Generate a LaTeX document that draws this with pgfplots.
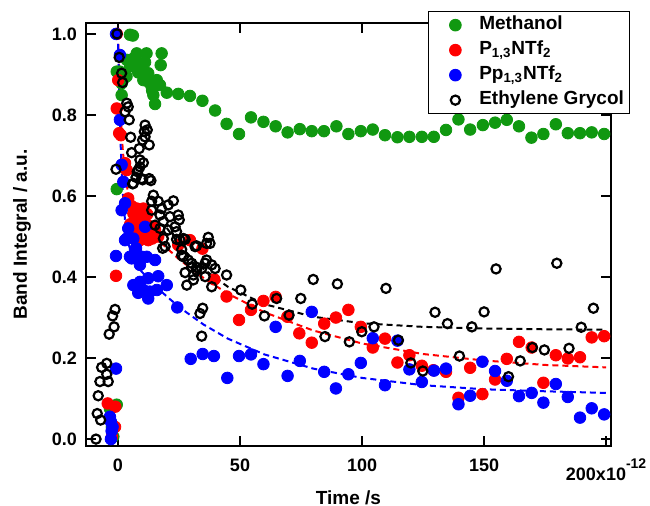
\documentclass[border=0pt]{standalone}
\usepackage{pgfplots}
\pgfplotsset{compat=1.18}
\usepackage{fontspec}
\setmainfont{Liberation Sans}
\definecolor{igorgreen}{RGB}{16,152,16}
\definecolor{igorred}{RGB}{255,0,0}
\definecolor{igorblue}{RGB}{0,0,255}

\begin{document}
\begin{tikzpicture}
\begin{axis}[
    scale only axis,
    width=262.5pt, height=211.5pt,
    xmin=-13.1, xmax=202.0,
    ymin=-0.017, ymax=1.027,
    xtick={0,50,100,150,200},
    xticklabels={0,50,100,150,{200x10\raisebox{5.8pt}{\fontsize{7}{7}\selectfont -12}}},
    ytick={0,0.2,0.4,0.6,0.8,1.0},
    yticklabel style={/pgf/number format/fixed, /pgf/number format/fixed zerofill,
        /pgf/number format/precision=1, xshift=-1pt},
    /pgf/number format/assume math mode=true,
    ticklabel style={font=\fontsize{9}{10}\selectfont\bfseries},
    xticklabel style={yshift=-3pt},
    tick align=inside,
    major tick length=5pt,
    tick style={line width=1pt, black},
    axis line style={line width=1pt},
    xlabel={Time /s},
    ylabel={Band Integral / a.u.},
    label style={font=\fontsize{9.5}{11}\selectfont\bfseries},
    xlabel style={at={([yshift=-26pt]axis description cs:0.5,0)}, anchor=center},
    ylabel style={at={([xshift=-32pt]axis description cs:0,0.5)}, anchor=center},
    legend cell align=left,
    legend image code/.code={\path (0cm,0cm) (0.75cm,0cm);
        \draw[#1] plot coordinates {(0.42cm,0cm)};},
    legend style={at={(1.037,1.028)}, anchor=north east,
        draw=black, line width=0.5pt, fill=white,
        inner xsep=1pt, inner ysep=0.5pt, row sep=0pt,
        font=\fontsize{9.5}{11}\selectfont\bfseries,
        nodes={text height=7pt, text depth=2.5pt, inner ysep=1.5pt}},
]
\coordinate (sw) at (rel axis cs:0,0);
\coordinate (ne) at (rel axis cs:1,1);

% Methanol
\addplot[only marks, mark=*, mark size=2.9pt, color=igorgreen] coordinates {
(-3.3,0.075) (-2.5,0.03) (-1.9,0.006) (-0.5,0.085) (-0.5,0.617) (-0.5,0.907)
(0.8,0.907) (1.5,0.878) (1.5,0.849) (3.5,0.895) (3.6,0.936) (4.9,0.998)
(6.1,0.996) (5.0,0.92) (6.5,0.94) (7.7,0.952) (8.3,0.905) (9.0,0.928) (9.7,0.911)
(10.4,0.886) (11.1,0.93) (11.7,0.952) (12.4,0.903) (12.8,0.88) (13.8,0.87)
(14.0,0.86) (14.5,0.849) (15.2,0.827) (15.9,0.886) (17.2,0.874) (17.5,0.923)
(17.9,0.952) (20.0,0.855) (24.7,0.852) (29.5,0.847) (34.6,0.835) (39.8,0.811)
(44.5,0.778) (49.6,0.753) (54.5,0.794) (59.6,0.783) (64.6,0.772) (69.5,0.757)
(74.5,0.765) (79.4,0.760) (84.4,0.760) (89.5,0.772) (94.4,0.753) (99.5,0.760)
(104.4,0.764) (109.4,0.750) (114.5,0.745) (119.4,0.746) (124.5,0.746)
(129.4,0.746) (134.4,0.763) (139.5,0.789) (144.3,0.764) (149.5,0.775)
(154.5,0.781) (159.3,0.788) (164.3,0.772) (169.4,0.744) (174.3,0.753)
(179.4,0.777) (184.3,0.755) (189.3,0.755) (194.1,0.757) (199.2,0.753)
};
\addlegendentry{Methanol}

% P13NTf2
\addplot[only marks, mark=*, mark size=2.9pt, color=igorred] coordinates {
(-4.2,0.088) (-1.1,0.08) (-2.5,0.006) (-1.2,0.03) (-0.8,0.403) (-0.5,1.0)
(-0.5,0.816) (0.1,0.886) (0.5,0.755) (1.2,0.75) (2.9,0.668) (2.9,0.681)
(3.6,0.664) (4.2,0.594) (5.0,0.53) (5.6,0.575) (6.3,0.557) (6.3,0.508)
(6.8,0.54) (7.7,0.569) (7.7,0.516) (8.3,0.52) (8.5,0.55) (9.0,0.537)
(9.0,0.491) (9.7,0.51) (10.4,0.569) (10.4,0.541) (10.4,0.5) (11.5,0.52)
(11.8,0.53) (12.0,0.555) (12.4,0.491) (13.1,0.508) (13.1,0.5) (14.0,0.495)
(14.5,0.524) (15.2,0.516) (16.5,0.5) (24.7,0.479) (29.5,0.491) (34.6,0.47)
(39.5,0.394) (44.5,0.352) (49.6,0.294) (54.5,0.319) (59.6,0.341) (64.6,0.351)
(69.4,0.302) (74.3,0.261) (79.4,0.238) (84.5,0.285) (89.3,0.3) (94.4,0.319)
(99.5,0.277) (104.4,0.226) (109.4,0.248) (114.5,0.189) (119.4,0.207)
(124.5,0.181) (129.2,0.17) (134.4,0.166) (139.5,0.102) (144.3,0.176)
(149.3,0.111) (154.5,0.147) (159.3,0.198) (164.3,0.24) (169.5,0.226)
(174.3,0.139) (179.4,0.207) (184.3,0.199) (189.3,0.202) (194.1,0.251)
(199.2,0.254)
};
\addlegendentry{P\textsubscript{1,3}NTf\textsubscript{2}}

% Pp13NTf2
\addplot[only marks, mark=*, mark size=2.9pt, color=igorblue] coordinates {
(-3.3,0.055) (-2.9,0.043) (-2.2,0.03) (-2.6,0.02) (-2.9,0.0) (-0.8,0.174)
(-0.8,1.0) (0.8,0.948) (0.8,0.788) (1.5,0.677) (2.2,0.635) (2.9,0.582)
(1.5,0.565) (4.2,0.52) (2.9,0.491) (3.6,0.495) (-0.8,0.452) (4.9,0.45)
(5.6,0.446) (6.3,0.495) (7.0,0.467) (7.4,0.471) (9.0,0.43) (9.7,0.45)
(11.1,0.524) (11.8,0.45) (15.2,0.442) (6.3,0.38) (8.3,0.361) (9.0,0.388)
(10.4,0.368) (12.4,0.397) (12.4,0.347) (13.1,0.364) (15.9,0.368) (16.5,0.402)
(20.0,0.38) (24.3,0.325) (29.8,0.198) (34.7,0.21) (39.3,0.205) (44.8,0.151)
(49.6,0.205) (54.5,0.209) (59.6,0.185) (64.6,0.277) (69.5,0.156) (74.5,0.193)
(79.4,0.314) (84.5,0.166) (89.3,0.125) (94.4,0.16) (99.5,0.188) (104.4,0.249)
(109.4,0.133) (114.5,0.243) (119.4,0.172) (124.5,0.141) (129.5,0.169)
(134.4,0.174) (139.5,0.086) (144.3,0.107) (149.3,0.191) (154.5,0.168)
(159.3,0.144) (164.3,0.106) (169.5,0.114) (174.3,0.09) (179.4,0.136)
(184.3,0.104) (189.3,0.053) (194.1,0.076) (199.2,0.061)
};
\addlegendentry{Pp\textsubscript{1,3}NTf\textsubscript{2}}

% Ethylene glycol
\addplot[only marks, mark=o, mark size=2.3pt, line width=1.1pt, color=black] coordinates {
(-9.0,0.0) (-8.5,0.063) (-7.1,0.047) (-8.1,0.107) (-7.4,0.142) (-4.0,0.142)
(-4.6,0.16) (-6.7,0.177) (-4.6,0.187) (-3.6,0.259) (-1.6,0.277) (-2.2,0.304)
(-1.2,0.32) (-0.4,1.0) (0.5,0.942) (1.5,0.903) (1.9,0.88) (-0.8,0.666)
(3.6,0.829) (2.9,0.808) (4.2,0.82) (4.6,0.788) (5.2,0.745) (5.6,0.707)
(6.0,0.63) (6.3,0.631) (7.4,0.646) (7.9,0.66) (8.3,0.664) (8.7,0.717)
(9.0,0.672) (9.0,0.689) (9.7,0.643) (10.1,0.738) (10.1,0.64) (10.4,0.682)
(10.8,0.759) (11.1,0.775) (11.1,0.746) (12.0,0.763) (12.8,0.726) (12.8,0.643)
(13.5,0.638) (13.8,0.587) (13.8,0.565) (14.5,0.602) (15.2,0.528) (16.5,0.587)
(17.2,0.553) (17.2,0.52) (17.9,0.569) (18.3,0.471) (18.6,0.537) (18.6,0.495)
(19.3,0.475) (20.6,0.578) (20.6,0.516) (21.3,0.549) (22.7,0.588) (23.4,0.524)
(24.0,0.512) (24.0,0.493) (24.7,0.553) (25.1,0.541) (25.4,0.491) (26.1,0.468)
(26.1,0.454) (26.8,0.495) (26.8,0.45) (27.5,0.493) (27.5,0.411) (28.2,0.38)
(28.8,0.442) (30.2,0.425) (30.2,0.434) (30.9,0.405) (30.9,0.393) (31.6,0.475)
(32.2,0.477) (32.2,0.424) (32.2,0.417) (33.6,0.31) (34.3,0.421) (34.3,0.254)
(34.7,0.323) (35.7,0.401) (35.7,0.434) (36.3,0.442) (36.3,0.483) (37.0,0.498)
(37.7,0.483) (38.4,0.376) (38.4,0.43) (39.8,0.421) (44.5,0.405) (50.3,0.368)
(55.0,0.333) (60.0,0.304) (65.0,0.347) (70.1,0.306) (74.9,0.347) (80.0,0.394)
(84.8,0.253) (89.9,0.383) (94.8,0.24) (99.9,0.265) (104.9,0.277) (109.8,0.372)
(114.9,0.244) (120.0,0.188) (124.9,0.168) (129.9,0.313) (135.0,0.285)
(139.9,0.205) (145.0,0.277) (150.0,0.314) (154.9,0.42) (160.0,0.154)
(164.8,0.193) (169.8,0.226) (174.7,0.22) (179.8,0.434) (184.8,0.224)
(189.8,0.276) (194.8,0.323)
};
\addlegendentry{Ethylene Grycol}

% fitted curves
\addplot[forget plot, igorred, line width=1pt, dash pattern=on 3pt off 2pt] coordinates {
(0,1.0) (0.25,0.944) (0.5,0.895) (1,0.816) (1.5,0.757) (2,0.711) (3,0.649)
(4,0.612) (6,0.570) (8,0.549) (12,0.518) (17,0.488) (25,0.444) (35,0.398)
(45,0.359) (60,0.313) (80,0.268) (100,0.236) (125,0.210) (150,0.194)
(175,0.183) (200,0.177)
};
\addplot[forget plot, igorblue, line width=1pt, dash pattern=on 3pt off 2pt] coordinates {
(0,1.0) (0.25,0.919) (0.5,0.850) (1,0.742) (1.5,0.663) (2,0.606) (3,0.532)
(4,0.488) (6,0.448) (8,0.425) (12,0.398) (17,0.368) (25,0.326) (35,0.283)
(45,0.248) (60,0.209) (80,0.174) (100,0.151) (125,0.133) (150,0.123)
(175,0.118) (200,0.114)
};
\addplot[forget plot, black, line width=1pt, dash pattern=on 3pt off 2pt] coordinates {
(20,0.521) (25,0.481) (30,0.448) (35,0.420) (45,0.376) (60,0.333) (80,0.302)
(100,0.286) (125,0.277) (150,0.273) (175,0.271) (200,0.270)
};
\end{axis}
\pgfresetboundingbox
\path[use as bounding box] ([shift={(-43pt,-30pt)}]sw) rectangle ([shift={(19.5pt,11.5pt)}]ne);
\end{tikzpicture}
\end{document}
